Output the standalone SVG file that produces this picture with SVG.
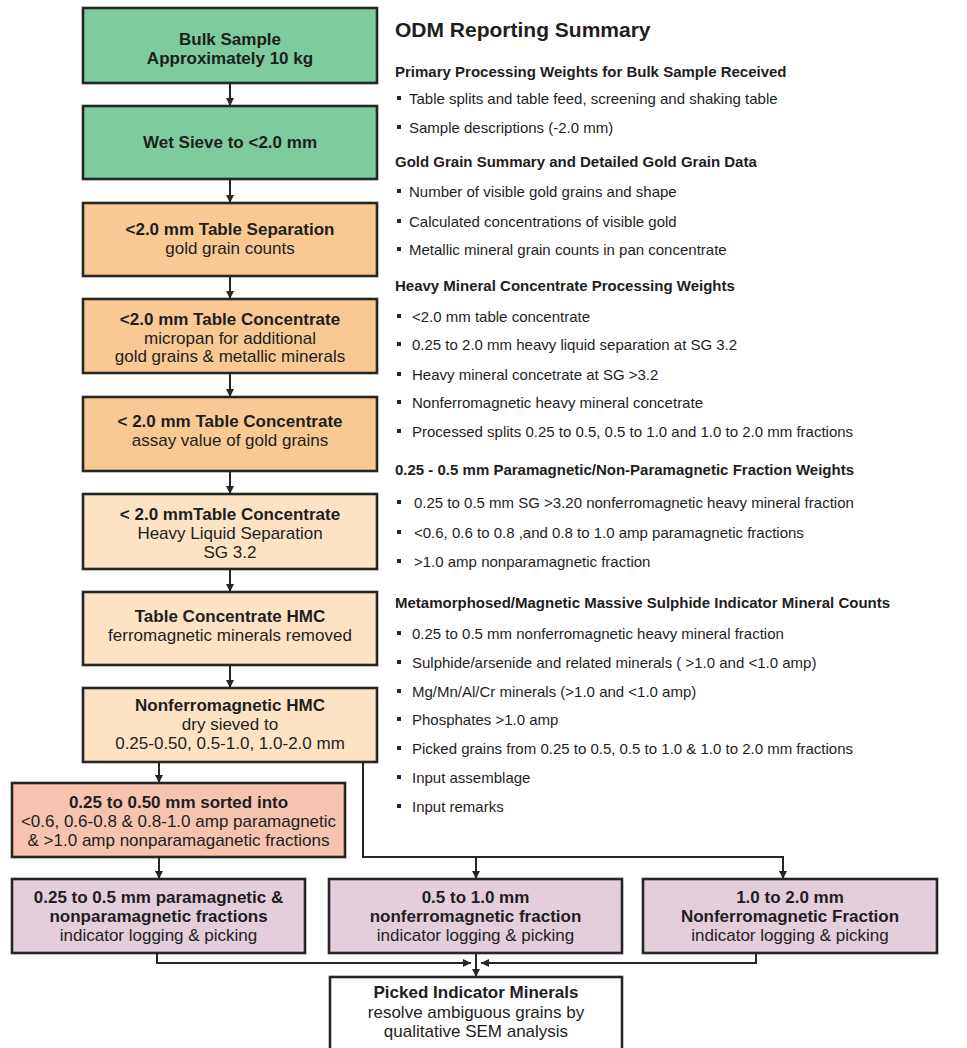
<svg xmlns="http://www.w3.org/2000/svg" width="967" height="1048" viewBox="0 0 967 1048">
<defs>
<style>
text{font-family:"Liberation Sans",Arial,Helvetica,sans-serif;fill:#1e1e1e}
.b{font-weight:bold}
.bx{font-size:17px;text-anchor:middle}
.box{stroke:#262626;stroke-width:2.6}
.g{fill:#7dcb9e}
.o{fill:#f9c994}
.lo{fill:#fde2c3}
.s{fill:#f6c4ae}
.p{fill:#e3cfdb}
.w{fill:#ffffff}
.title{font-size:21px;font-weight:bold}
.h{font-size:15px;font-weight:bold}
.t{font-size:15px}
.bul{fill:#262626}
.c{fill:none;stroke:#262626;stroke-width:2}
</style>
<marker id="ah" viewBox="0 0 10 10" refX="10" refY="5" markerWidth="8" markerHeight="8" markerUnits="userSpaceOnUse" orient="auto">
<path d="M0,0 L10,5 L0,10 z" fill="#262626"/>
</marker>
</defs>
<rect width="967" height="1048" fill="#ffffff"/>

<g id="connectors">
<path class="c" d="M230 83 V106" marker-end="url(#ah)"/>
<path class="c" d="M230 179 V203" marker-end="url(#ah)"/>
<path class="c" d="M230 276 V299" marker-end="url(#ah)"/>
<path class="c" d="M230 373 V397" marker-end="url(#ah)"/>
<path class="c" d="M230 471 V494" marker-end="url(#ah)"/>
<path class="c" d="M230 569 V592" marker-end="url(#ah)"/>
<path class="c" d="M230 665 V688" marker-end="url(#ah)"/>
<path class="c" d="M159 762 V783" marker-end="url(#ah)"/>
<path class="c" d="M159 857 V879" marker-end="url(#ah)"/>
<path class="c" d="M363 762 V857 H783 V879" marker-end="url(#ah)"/>
<path class="c" d="M476 857 V879" marker-end="url(#ah)"/>
<path class="c" d="M157 953 V963 H471" marker-end="url(#ah)"/>
<path class="c" d="M756 953 V963 H481" marker-end="url(#ah)"/>
<path class="c" d="M476 953 V977" marker-end="url(#ah)"/>
</g>

<g id="n1"><rect class="box g" x="83" y="8" width="294" height="75"/>
<text class="bx b" x="230" y="45">Bulk Sample</text>
<text class="bx b" x="230" y="64">Approximately 10 kg</text></g>

<g id="n2"><rect class="box g" x="83" y="106" width="294" height="73"/>
<text class="bx b" x="230" y="148">Wet Sieve to &lt;2.0 mm</text></g>

<g id="n3"><rect class="box o" x="83" y="203" width="294" height="73"/>
<text class="bx b" x="230" y="235">&lt;2.0 mm Table Separation</text>
<text class="bx" x="230" y="254">gold grain counts</text></g>

<g id="n4"><rect class="box o" x="83" y="299" width="294" height="74"/>
<text class="bx b" x="230" y="325">&lt;2.0 mm Table Concentrate</text>
<text class="bx" x="230" y="344">micropan for additional</text>
<text class="bx" x="230" y="362">gold grains &amp; metallic minerals</text></g>

<g id="n5"><rect class="box o" x="83" y="397" width="294" height="74"/>
<text class="bx b" x="230" y="427">&lt; 2.0 mm Table Concentrate</text>
<text class="bx" x="230" y="446">assay value of gold grains</text></g>

<g id="n6"><rect class="box lo" x="83" y="494" width="294" height="75"/>
<text class="bx b" x="230" y="520">&lt; 2.0 mmTable Concentrate</text>
<text class="bx" x="230" y="539">Heavy Liquid Separation</text>
<text class="bx" x="230" y="558">SG 3.2</text></g>

<g id="n7"><rect class="box lo" x="83" y="592" width="294" height="73"/>
<text class="bx b" x="230" y="622">Table Concentrate HMC</text>
<text class="bx" x="230" y="641">ferromagnetic minerals removed</text></g>

<g id="n8"><rect class="box lo" x="83" y="688" width="294" height="74"/>
<text class="bx b" x="230" y="711">Nonferromagnetic HMC</text>
<text class="bx" x="230" y="730">dry sieved to</text>
<text class="bx" x="230" y="749">0.25-0.50, 0.5-1.0, 1.0-2.0 mm</text></g>

<g id="n9"><rect class="box s" x="12" y="783" width="333" height="74"/>
<text class="bx b" x="178.5" y="808">0.25 to 0.50 mm sorted into</text>
<text class="bx" x="178.5" y="827">&lt;0.6, 0.6-0.8 &amp; 0.8-1.0 amp paramagnetic</text>
<text class="bx" x="178.5" y="846">&amp; &gt;1.0 amp nonparamaganetic fractions</text></g>

<g id="n10"><rect class="box p" x="12" y="879" width="293" height="74"/>
<text class="bx b" x="158.5" y="903">0.25 to 0.5 mm paramagnetic &amp;</text>
<text class="bx b" x="158.5" y="922">nonparamagnetic fractions</text>
<text class="bx" x="158.5" y="941">indicator logging &amp; picking</text></g>

<g id="n11"><rect class="box p" x="329" y="879" width="293" height="74"/>
<text class="bx b" x="475.5" y="903">0.5 to 1.0 mm</text>
<text class="bx b" x="475.5" y="922">nonferromagnetic fraction</text>
<text class="bx" x="475.5" y="941">indicator logging &amp; picking</text></g>

<g id="n12"><rect class="box p" x="643" y="879" width="294" height="74"/>
<text class="bx b" x="790" y="903">1.0 to 2.0 mm</text>
<text class="bx b" x="790" y="922">Nonferromagnetic Fraction</text>
<text class="bx" x="790" y="941">indicator logging &amp; picking</text></g>

<g id="n13"><rect class="box w" x="330" y="977" width="292" height="80"/>
<text class="bx b" x="476" y="998">Picked Indicator Minerals</text>
<text class="bx" x="476" y="1018">resolve ambiguous grains by</text>
<text class="bx" x="476" y="1037">qualitative SEM analysis</text></g>

<g id="summary">
<text class="title" x="395" y="37">ODM Reporting Summary</text>
<text class="h" x="395" y="77">Primary Processing Weights for Bulk Sample Received</text>
<rect class="bul" x="397" y="96" width="4" height="4"/><text class="t" x="409" y="104">Table splits and table feed, screening and shaking table</text>
<rect class="bul" x="397" y="125" width="4" height="4"/><text class="t" x="409" y="133">Sample descriptions (-2.0 mm)</text>
<text class="h" x="395" y="167">Gold Grain Summary and Detailed Gold Grain Data</text>
<rect class="bul" x="397" y="189" width="4" height="4"/><text class="t" x="409" y="197">Number of visible gold grains and shape</text>
<rect class="bul" x="397" y="219" width="4" height="4"/><text class="t" x="409" y="227">Calculated concentrations of visible gold</text>
<rect class="bul" x="397" y="247" width="4" height="4"/><text class="t" x="409" y="255">Metallic mineral grain counts in pan concentrate</text>
<text class="h" x="395" y="291">Heavy Mineral Concentrate Processing Weights</text>
<rect class="bul" x="397" y="314" width="4" height="4"/><text class="t" x="412" y="322">&lt;2.0 mm table concentrate</text>
<rect class="bul" x="397" y="342" width="4" height="4"/><text class="t" x="412" y="350">0.25 to 2.0 mm heavy liquid separation at SG 3.2</text>
<rect class="bul" x="397" y="372" width="4" height="4"/><text class="t" x="412" y="380">Heavy mineral concetrate at SG &gt;3.2</text>
<rect class="bul" x="397" y="400" width="4" height="4"/><text class="t" x="412" y="408">Nonferromagnetic heavy mineral concetrate</text>
<rect class="bul" x="397" y="429" width="4" height="4"/><text class="t" x="412" y="437">Processed splits 0.25 to 0.5, 0.5 to 1.0 and 1.0 to 2.0 mm fractions</text>
<text class="h" x="395" y="475">0.25 - 0.5 mm Paramagnetic/Non-Paramagnetic Fraction Weights</text>
<rect class="bul" x="397" y="500" width="4" height="4"/><text class="t" x="414" y="508">0.25 to 0.5 mm SG &gt;3.20 nonferromagnetic heavy mineral fraction</text>
<rect class="bul" x="397" y="530" width="4" height="4"/><text class="t" x="414" y="538">&lt;0.6, 0.6 to 0.8 ,and 0.8 to 1.0 amp paramagnetic fractions</text>
<rect class="bul" x="397" y="559" width="4" height="4"/><text class="t" x="414" y="567">&gt;1.0 amp nonparamagnetic fraction</text>
<text class="h" x="395" y="608">Metamorphosed/Magnetic Massive Sulphide Indicator Mineral Counts</text>
<rect class="bul" x="397" y="631" width="4" height="4"/><text class="t" x="412" y="639">0.25 to 0.5 mm nonferromagnetic heavy mineral fraction</text>
<rect class="bul" x="397" y="660" width="4" height="4"/><text class="t" x="412" y="668">Sulphide/arsenide and related minerals ( &gt;1.0 and &lt;1.0 amp)</text>
<rect class="bul" x="397" y="689" width="4" height="4"/><text class="t" x="412" y="697">Mg/Mn/Al/Cr minerals (&gt;1.0 and &lt;1.0 amp)</text>
<rect class="bul" x="397" y="717" width="4" height="4"/><text class="t" x="412" y="725">Phosphates &gt;1.0 amp</text>
<rect class="bul" x="397" y="746" width="4" height="4"/><text class="t" x="412" y="754">Picked grains from 0.25 to 0.5, 0.5 to 1.0 &amp; 1.0 to 2.0 mm fractions</text>
<rect class="bul" x="397" y="775" width="4" height="4"/><text class="t" x="412" y="783">Input assemblage</text>
<rect class="bul" x="397" y="804" width="4" height="4"/><text class="t" x="412" y="812">Input remarks</text>
</g>
</svg>
